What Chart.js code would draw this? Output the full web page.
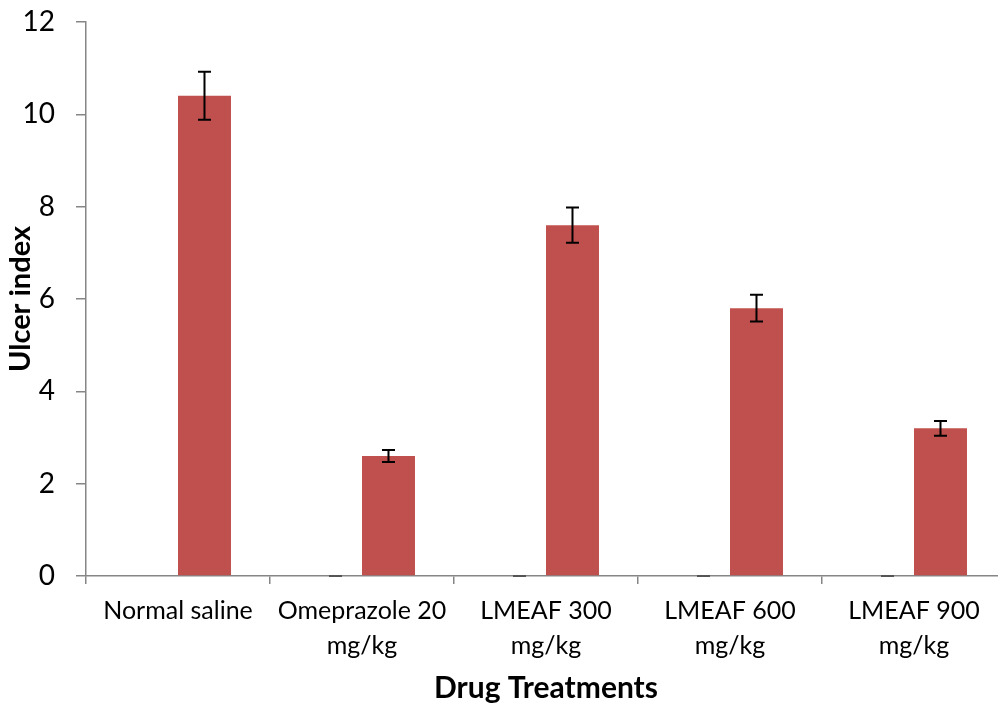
<!DOCTYPE html>
<html><head><meta charset="utf-8">
<script src="https://cdn.jsdelivr.net/npm/chart.js@4"></script>
<style>
html,body{margin:0;padding:0;overflow:hidden;background:#fff;width:998px;height:704px}
#wrap{position:absolute;left:0;top:0;width:1012px;height:704px}
</style></head><body>
<div id="wrap"><canvas id="c" width="1012" height="704"></canvas></div>
<script>
const categories = [["Normal saline"], ["Omeprazole 20","mg/kg"], ["LMEAF 300","mg/kg"], ["LMEAF 600","mg/kg"], ["LMEAF 900","mg/kg"]];
const blankValues = [0, 0, 0, 0, 0];
const blankErrors = [null, 0, 0, 0, 0];
const ulcerIndex = [10.4, 2.6, 7.6, 5.8, 3.2];
const ulcerErrors = [0.52, 0.13, 0.38, 0.29, 0.16];
const yTicks = [0, 2, 4, 6, 8, 10, 12];

const FONT = "Lato";
const errorBars = {
  id: 'errorBars',
  afterDatasetsDraw(chart) {
    const ctx = chart.ctx, y = chart.scales.y;
    const sets = [[0, blankErrors, blankValues, '#555'], [1, ulcerErrors, ulcerIndex, '#000']];
    ctx.save();
    ctx.lineWidth = 2;
    for (const [di, errs, vals, col] of sets) {
      const meta = chart.getDatasetMeta(di);
      meta.data.forEach((bar, i) => {
        if (errs[i] === null || errs[i] === undefined) return;
        const x = bar.x;
        const top = y.getPixelForValue(vals[i] + errs[i]);
        const bot = y.getPixelForValue(vals[i] - errs[i]);
        ctx.strokeStyle = col;
        ctx.beginPath();
        ctx.moveTo(x, top); ctx.lineTo(x, bot);
        ctx.moveTo(x - 6.5, top); ctx.lineTo(x + 6.5, top);
        ctx.moveTo(x - 6.5, bot); ctx.lineTo(x + 6.5, bot);
        ctx.stroke();
      });
    }
    ctx.restore();
  }
};

new Chart(document.getElementById('c'), {
  type: 'bar',
  data: {
    labels: categories,
    datasets: [
      { label: 'blank', data: blankValues, backgroundColor: 'rgba(0,0,0,0)' },
      { label: 'Ulcer index', data: ulcerIndex, backgroundColor: '#C0504D' }
    ]
  },
  plugins: [errorBars],
  options: {
    responsive: false,
    animation: false,
    events: [],
    layout: { padding: { top: 22, right: 6, left: 0, bottom: 0 } },
    plugins: { legend: { display: false }, tooltip: { enabled: false } },
    datasets: { bar: { categoryPercentage: 0.576, barPercentage: 1.0 } },
    scales: {
      x: {
        afterFit(s) { s.height = 128; s.paddingLeft = 0; s.paddingRight = 0; },
        grid: { offset: true, drawOnChartArea: false, drawTicks: true, tickLength: 8, color: '#868686', lineWidth: 1.5 },
        border: { color: '#868686', width: 1.5 },
        ticks: { color: '#000', font: { family: FONT, size: 25, lineHeight: 1.42 }, padding: 9, maxRotation: 0, autoSkip: false },
        title: { display: true, text: 'Drug Treatments', color: '#000', font: { family: FONT, size: 30, weight: 'bold' }, padding: { top: 0, bottom: -2 } }
      },
      y: {
        min: 0, max: 12,
        afterFit(s) { s.width = 86; s.paddingTop = 0; s.paddingBottom = 0; },
        afterBuildTicks(s) { s.ticks = yTicks.map(v => ({ value: v })); },
        grid: { drawOnChartArea: false, drawTicks: true, tickLength: 10, color: '#868686', lineWidth: 1.5 },
        border: { color: '#868686', width: 1.5 },
        ticks: { color: '#000', font: { family: FONT, size: 28 }, padding: 21 },
        title: { display: true, text: 'Ulcer index', color: '#000', font: { family: FONT, size: 29, weight: 'bold' }, padding: { top: 3, bottom: 0 } }
      }
    }
  }
});
</script>
</body></html>
